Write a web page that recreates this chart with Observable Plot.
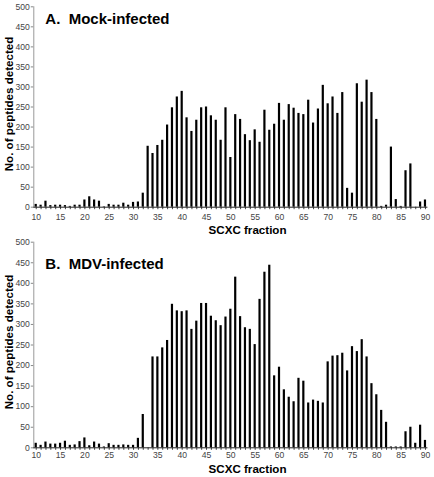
<!DOCTYPE html>
<html>
<head>
<meta charset="utf-8">
<script src="https://cdn.jsdelivr.net/npm/d3@7"></script>
<script src="https://cdn.jsdelivr.net/npm/@observablehq/plot@0.6"></script>
<style>
  html, body { margin: 0; padding: 0; background: #fff; }
  #chart { width: 434px; height: 477px; font-family: "Liberation Sans", Arial, sans-serif; }
  #chart svg { display: block; overflow: visible; }
</style>
</head>
<body>
<div id="chart"></div>
<script>
// SCXC fractions 10–90
const fractions = d3.range(10, 91);

// Peptides detected per fraction, mock-infected cells
const mockCounts = [
  7, 5, 15, 4, 5, 5, 4, 2, 5, 5,
  18, 26, 18, 15, 1, 7, 5, 5, 10, 5,
  12, 13, 35, 152, 134, 154, 167, 205, 248, 275,
  289, 223, 189, 217, 248, 250, 228, 217, 167, 248,
  124, 231, 219, 181, 166, 193, 162, 242, 192, 207,
  259, 217, 256, 247, 234, 231, 267, 210, 245, 304,
  258, 275, 234, 286, 47, 35, 308, 262, 317, 286,
  219, 2, 5, 150, 19, 2, 91, 108, 0, 13,
  18
];

// Peptides detected per fraction, MDV-infected cells
const mdvCounts = [
  11, 6, 14, 9, 9, 11, 16, 6, 7, 15,
  24, 5, 14, 9, 2, 10, 6, 6, 7, 6,
  6, 23, 81, 0, 221, 221, 243, 261, 349, 333,
  331, 333, 288, 308, 351, 351, 320, 309, 297, 318,
  337, 415, 319, 292, 288, 251, 361, 427, 444, 175,
  196, 141, 123, 112, 169, 162, 109, 116, 113, 109,
  209, 223, 224, 230, 187, 246, 234, 263, 221, 156,
  129, 91, 62, 2, 2, 2, 39, 50, 11, 55,
  18
];

const yTicks = d3.range(0, 501, 50);

const FONT = '"Liberation Sans", Arial, sans-serif';

function panel({counts, title, height, marginTop, marginBottom, titleDy, tickPadding, xLabelDy}) {
  const data = fractions.map((f, i) => ({fraction: f, count: counts[i]}));
  return Plot.plot({
    width: 434,
    height,
    marginTop,
    marginBottom,
    marginLeft: 33.3,
    marginRight: 6.6,
    style: {fontFamily: FONT, background: "white", overflow: "visible"},
    x: {type: "band", domain: fractions, paddingInner: 0.55, paddingOuter: 0.275, align: 0.5},
    y: {domain: [0, 500]},
    marks: [
      Plot.axisY({
        ticks: yTicks,
        tickSize: 2.5,
        tickPadding: 1.5,
        fontSize: 8.6,
        color: "#444",
        stroke: "#888",
        label: null
      }),
      Plot.frame({anchor: "left", stroke: "#999"}),
      Plot.axisX({
        ticks: fractions,
        tickFormat: d => (d % 5 === 0 ? d : ""),
        tickSize: 2.5,
        tickPadding,
        fontSize: 8.6,
        color: "#444",
        stroke: "#444",
        label: null
      }),
      Plot.barY(data, {x: "fraction", y: "count", fill: "black"}),
      Plot.ruleY([0], {stroke: "#222", strokeWidth: 1}),
      Plot.text([title], {
        frameAnchor: "top-left",
        lineAnchor: "top",
        dx: 11.5,
        dy: titleDy,
        fontSize: 15,
        fontWeight: "bold",
        fill: "black"
      }),
      Plot.text(["No. of peptides detected"], {
        frameAnchor: "left",
        textAnchor: "middle",
        lineAnchor: "middle",
        rotate: -90,
        dx: -25,
        dy: -3,
        fontSize: 11.6,
        fontWeight: "bold",
        fill: "black"
      }),
      Plot.text(["SCXC fraction"], {
        frameAnchor: "bottom",
        lineAnchor: "middle",
        dx: 16.7,
        dy: xLabelDy,
        fontSize: 11.6,
        fontWeight: "bold",
        fill: "black"
      })
    ]
  });
}

const root = document.getElementById("chart");
root.append(panel({
  counts: mockCounts,
  title: "A.  Mock-infected",
  height: 236,
  marginTop: 6.3,
  marginBottom: 29.3,
  titleDy: 6.4,
  tickPadding: 4,
  xLabelDy: 23.3
}));
root.append(panel({
  counts: mdvCounts,
  title: "B.  MDV-infected",
  height: 241,
  marginTop: 5.7,
  marginBottom: 29.7,
  titleDy: 16,
  tickPadding: 2,
  xLabelDy: 21.4
}));
</script>
</body>
</html>
